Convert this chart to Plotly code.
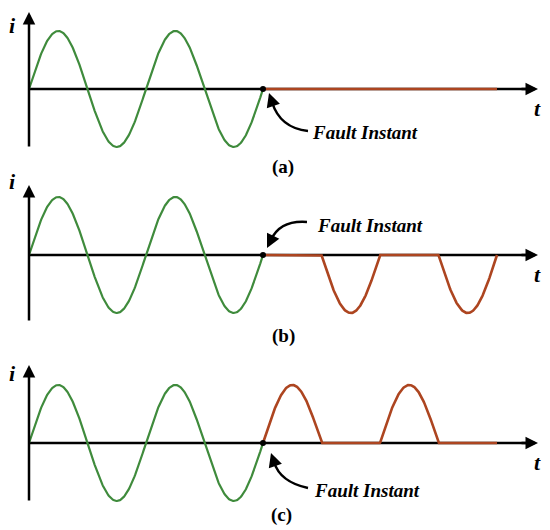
import numpy as np
import plotly.graph_objects as go

# ---- data ----
panel_labels = ["(a)", "(b)", "(c)"]
fault_modes = ["zero", "negative", "positive"]   # current after fault
cycles_before = 2.0      # cycles of healthy current before fault
cycles_after = 2.0       # cycles drawn after fault
amplitude = 1.0
fault_text = "Fault Instant"
axis_labels = ["i", "t"]

# ---- styling / geometry ----
GREEN = "#3f8b3c"
RED = "#ad4520"
W, H = 550, 530
X0PX, PX_PER_CYCLE = 29, 117
PX_PER_UNIT = 58
zero_px = [89, 255, 443]
FONT = "Liberation Serif"

def yrange(z):
    return [-(H - z) / PX_PER_UNIT, z / PX_PER_UNIT]

def t_of(px):
    return (px - X0PX) / PX_PER_CYCLE

def y_of(py, z):
    return (z - py) / PX_PER_UNIT

fig = go.Figure()

t_pre = np.linspace(0, cycles_before, 400)
i_pre = amplitude * np.sin(2 * np.pi * t_pre)
t_post = np.linspace(cycles_before, cycles_before + cycles_after, 400)
s_post = amplitude * np.sin(2 * np.pi * t_post)

yaxes = ["y", "y2", "y3"]
axis_bottom_px = [148, 322, 502]
axis_tip_px = [12, 185, 365]
i_label_px = [25, 181, 373]
caption_px = [(283, 167), (283, 336), (281, 515)]
text_px = [(365, 132), (370, 225), (367, 490)]
# curved arrow: start, control, end, tip (pixels)
curve_px = [
    [(308, 131), (280, 128), (272, 102), (269, 93)],
    [(307, 222), (280, 220), (271, 240), (267, 248)],
    [(308, 488), (280, 482), (274, 462), (271, 453)],
]

shapes = []
annotations = []
for k, (mode, ya) in enumerate(zip(fault_modes, yaxes)):
    z = zero_px[k]
    if mode == "zero":
        i_post = np.zeros_like(s_post)
    elif mode == "negative":
        i_post = np.minimum(s_post, 0)
    else:
        i_post = np.maximum(s_post, 0)

    # horizontal axis line (below traces)
    shapes.append(dict(type="line", xref="x", yref=ya, x0=0, x1=t_of(530), y0=0, y1=0,
                       line=dict(color="black", width=2.5), layer="below"))
    # horizontal arrowhead
    annotations.append(dict(x=t_of(538), y=0, ax=t_of(520), ay=0, xref="x", yref=ya,
                            axref="x", ayref=ya, showarrow=True, arrowhead=2,
                            arrowsize=1, arrowwidth=2.5, arrowcolor="black", text=""))
    # vertical axis with arrow
    annotations.append(dict(x=0, y=y_of(axis_tip_px[k], z), ax=0, ay=y_of(axis_bottom_px[k], z),
                            xref="x", yref=ya, axref="x", ayref=ya, showarrow=True,
                            arrowhead=2, arrowsize=1, arrowwidth=2.5, arrowcolor="black", text=""))

    fig.add_trace(go.Scatter(x=t_pre, y=i_pre, mode="lines", yaxis=ya,
                             line=dict(color=GREEN, width=2.2), hoverinfo="skip", showlegend=False))
    fig.add_trace(go.Scatter(x=t_post, y=i_post, mode="lines", yaxis=ya,
                             line=dict(color=RED, width=2.6), hoverinfo="skip", showlegend=False))
    fig.add_trace(go.Scatter(x=[cycles_before], y=[0], mode="markers", yaxis=ya,
                             marker=dict(color="black", size=6), hoverinfo="skip", showlegend=False))

    # curved arrow
    (s, c, e, tip) = curve_px[k]
    path = "M {},{} Q {},{} {},{}".format(t_of(s[0]), y_of(s[1], z), t_of(c[0]), y_of(c[1], z),
                                          t_of(e[0]), y_of(e[1], z))
    shapes.append(dict(type="path", xref="x", yref=ya, path=path,
                       line=dict(color="black", width=2.5)))
    annotations.append(dict(x=t_of(tip[0]), y=y_of(tip[1], z), ax=t_of(e[0]), ay=y_of(e[1], z),
                            xref="x", yref=ya, axref="x", ayref=ya, showarrow=True,
                            arrowhead=2, arrowsize=1.1, arrowwidth=2.5, arrowcolor="black", text=""))

    # texts
    annotations.append(dict(x=t_of(text_px[k][0]), y=y_of(text_px[k][1], z), xref="x", yref=ya,
                            text="<b><i>" + fault_text + "</i></b>", showarrow=False,
                            font=dict(family=FONT, size=19, color="black")))
    annotations.append(dict(x=t_of(12), y=y_of(i_label_px[k], z), xref="x", yref=ya,
                            text="<b><i>" + axis_labels[0] + "</i></b>", showarrow=False,
                            font=dict(family=FONT, size=22, color="black")))
    annotations.append(dict(x=t_of(537), y=y_of(z + 19, z), xref="x", yref=ya,
                            text="<b><i>" + axis_labels[1] + "</i></b>", showarrow=False,
                            font=dict(family=FONT, size=22, color="black")))
    annotations.append(dict(x=t_of(caption_px[k][0]), y=y_of(caption_px[k][1], z), xref="x", yref=ya,
                            text="<b>" + panel_labels[k] + "</b>", showarrow=False,
                            font=dict(family=FONT, size=19, color="black")))

hidden = dict(visible=False, showgrid=False, zeroline=False, fixedrange=True)
fig.update_layout(
    width=W, height=H, autosize=False,
    margin=dict(l=0, r=0, t=0, b=0),
    paper_bgcolor="white", plot_bgcolor="rgba(0,0,0,0)",
    xaxis=dict(range=[t_of(0), t_of(W)], domain=[0, 1], **hidden),
    yaxis=dict(range=yrange(zero_px[0]), domain=[0, 1], **hidden),
    yaxis2=dict(range=yrange(zero_px[1]), domain=[0, 1], overlaying="y", **hidden),
    yaxis3=dict(range=yrange(zero_px[2]), domain=[0, 1], overlaying="y", **hidden),
    shapes=shapes, annotations=annotations, showlegend=False,
)

fig.write_html("out.html", config={"displayModeBar": False},
               post_script="document.body.style.margin='0';document.body.style.padding='0';")
